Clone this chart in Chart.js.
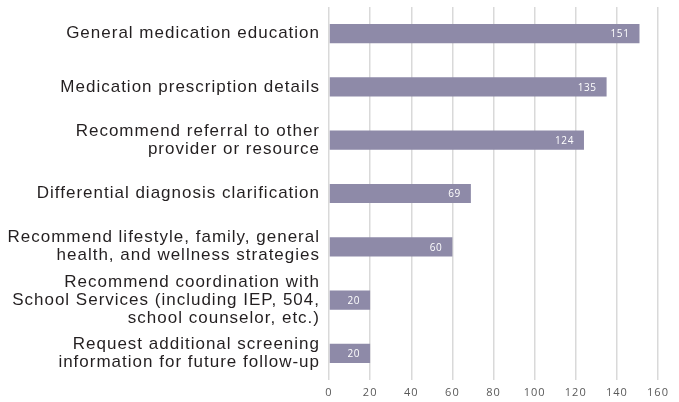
<!DOCTYPE html>
<html><head><meta charset="utf-8">
<script src="https://cdn.jsdelivr.net/npm/chart.js@4/dist/chart.umd.min.js"></script>
<style>html,body{margin:0;padding:0;background:#fff}#wrap{width:679px;height:402px}</style>
</head><body><div id="wrap"><canvas id="c"></canvas></div>
<script>
const categories = [
  ["General medication education"],
  ["Medication prescription details"],
  ["Recommend referral to other", "provider or resource"],
  ["Differential diagnosis clarification"],
  ["Recommend lifestyle, family, general", "health, and wellness strategies"],
  ["Recommend coordination with", "School Services (including IEP, 504,", "school counselor, etc.)"],
  ["Request additional screening", "information for future follow-up"]
];
const values = [151, 135, 124, 69, 60, 20, 20];
const xTicks = [0, 20, 40, 60, 80, 100, 120, 140, 160];

const spacing = {
  id: 'spacing',
  beforeUpdate(chart) { chart.ctx.letterSpacing = '1px'; },
  beforeDraw(chart) { chart.ctx.letterSpacing = '1px'; }
};

const valueLabels = {
  id: 'valueLabels',
  afterDatasetsDraw(chart) {
    const ctx = chart.ctx;
    const meta = chart.getDatasetMeta(0);
    ctx.save();
    ctx.letterSpacing = '0.6px';
    ctx.fillStyle = '#ffffff';
    ctx.font = '10px "Open Sans", sans-serif';
    ctx.textAlign = 'right';
    ctx.textBaseline = 'middle';
    meta.data.forEach((bar, i) => {
      ctx.fillText(String(values[i]), bar.x - 10, bar.y + 1);
    });
    ctx.restore();
  }
};

new Chart(document.getElementById('c'), {
  type: 'bar',
  data: {
    labels: categories,
    datasets: [{
      data: values,
      backgroundColor: '#8e8aa8',
      borderWidth: 0,
      barPercentage: 0.36,
      categoryPercentage: 1.0
    }]
  },
  options: {
    indexAxis: 'y',
    responsive: true,
    maintainAspectRatio: false,
    animation: false,
    layout: { padding: { top: 7, right: 21, bottom: 2, left: 0 } },
    plugins: { legend: { display: false }, tooltip: { enabled: false } },
    scales: {
      x: {
        min: 0, max: 160,
        afterBuildTicks(scale) { scale.ticks = xTicks.map(v => ({ value: v })); },
        afterFit(scale) { scale.height = 20; },
        grid: { color: '#d9d9d9', lineWidth: 1.5, drawTicks: false },
        border: { display: false },
        ticks: { color: '#595959', font: { family: '"Open Sans", sans-serif', size: 11 }, padding: 6, maxRotation: 0 }
      },
      y: {
        grid: { display: false, drawTicks: false },
        border: { display: false },
        afterFit(scale) { scale.width = 329; scale.paddingTop = 0; scale.paddingBottom = 0; },
        ticks: { autoSkip: false, color: '#231f20', font: { family: '"Liberation Sans", Arial, sans-serif', size: 17, lineHeight: 1.06 }, padding: 9 }
      }
    }
  },
  plugins: [spacing, valueLabels]
});
</script></body></html>
